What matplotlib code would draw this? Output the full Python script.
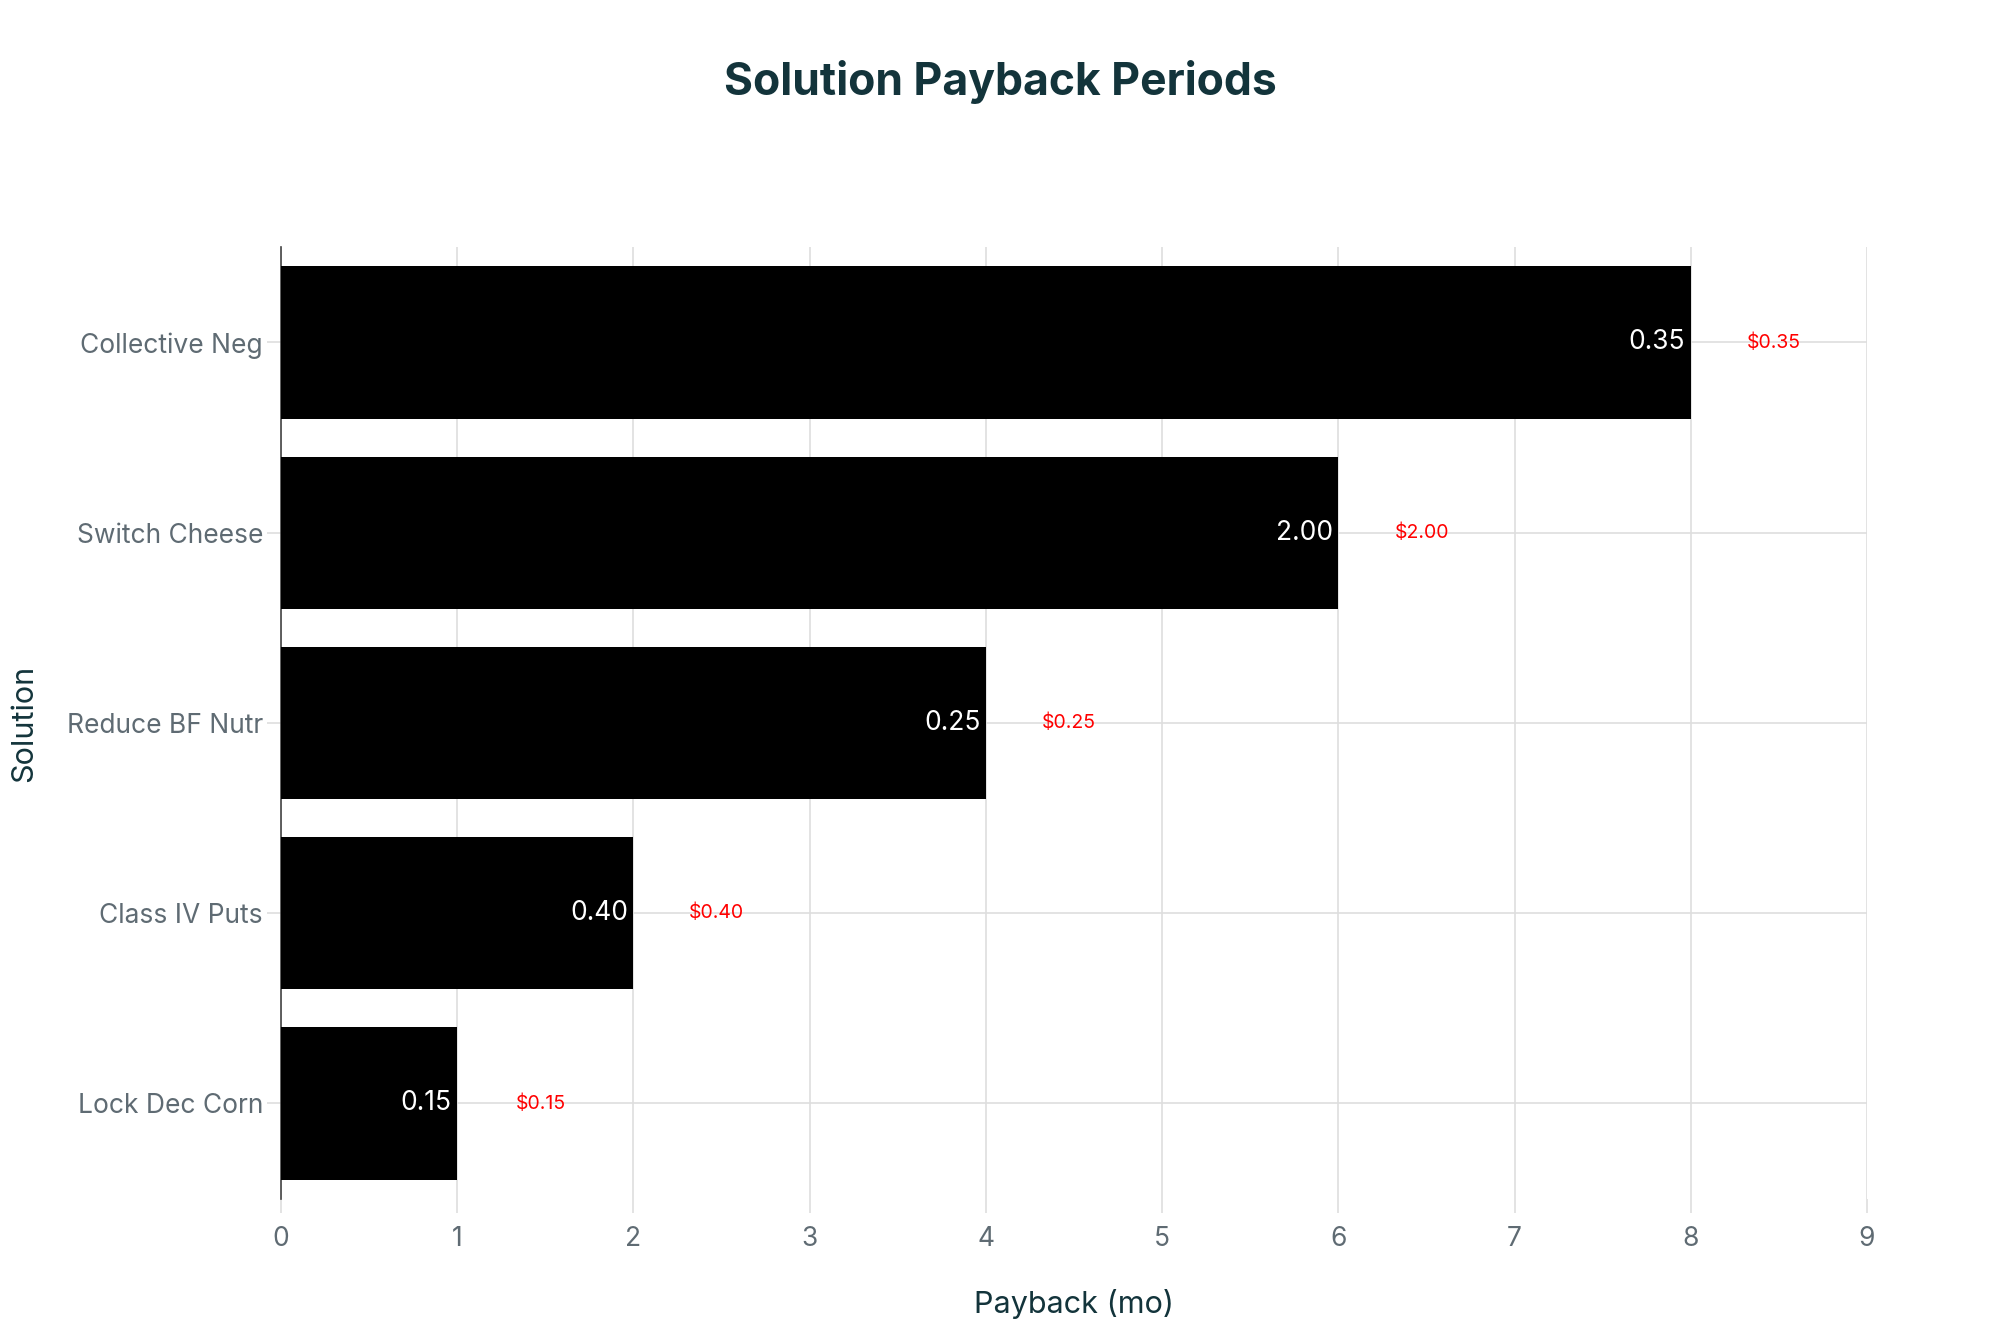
import matplotlib.pyplot as plt

solutions = ["Lock Dec Corn", "Class IV Puts", "Reduce BF Nutr", "Switch Cheese", "Collective Neg"]
payback = [1, 2, 4, 6, 8]
bar_labels = ["0.15", "0.40", "0.25", "2.00", "0.35"]
cost_labels = ["$0.15", "$0.40", "$0.25", "$2.00", "$0.35"]

plt.rcParams['font.family'] = ['Inter', 'DejaVu Sans']

title_color = "#13343B"
tick_color = "#5f6b73"

fig = plt.figure(figsize=(20, 13.33), dpi=100)
ax = fig.add_axes([0.1405, 0.1008, 0.793, 0.7137])

ax.barh(range(len(solutions)), payback, height=0.8, color="black", zorder=3)

for i, v in enumerate(payback):
    ax.annotate(bar_labels[i], (v, i), xytext=(-4, 0), textcoords="offset points",
                ha="right", va="center", color="white", fontsize=19, zorder=4)
    ax.annotate(cost_labels[i], (v, i), xytext=(60, 0), textcoords="offset points",
                ha="center", va="center", color="#ff0000", fontsize=14, zorder=4)

ax.set_xlim(0, 9)
ax.set_ylim(-0.5, 4.5)
ax.set_xticks(range(10))
ax.set_yticks(range(len(solutions)))
ax.set_yticklabels(solutions)

ax.grid(True, color="#dedede", linewidth=1.2, zorder=0)
ax.set_axisbelow(True)

for s in ["top", "right", "bottom"]:
    ax.spines[s].set_visible(False)
ax.spines["left"].set_color("#444444")
ax.spines["left"].set_linewidth(1.2)

ax.tick_params(axis="both", colors="#dedede", labelcolor=tick_color, labelsize=19,
               length=10, width=1.2)
ax.tick_params(axis="x", pad=10)
ax.tick_params(axis="y", pad=3)

ax.set_xlabel("Payback (mo)", fontsize=22, color=title_color, labelpad=26)
ax.set_ylabel("Solution", fontsize=22, color=title_color)
ax.yaxis.set_label_coords(-0.153, 0.5)

fig.suptitle("Solution Payback Periods", fontsize=32, fontweight="bold",
             color=title_color, y=0.955)

fig.savefig("out.png")
